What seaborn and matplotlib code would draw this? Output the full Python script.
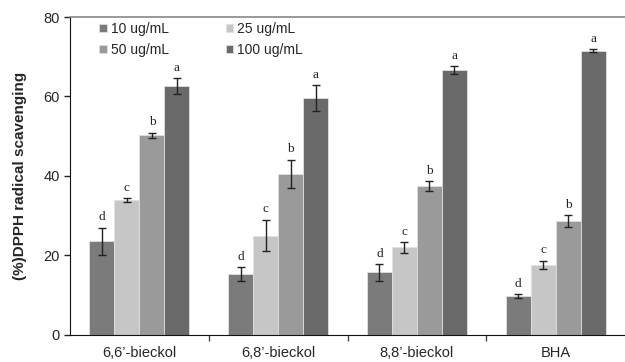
import matplotlib
matplotlib.use("Agg")
import matplotlib.pyplot as plt
import seaborn as sns
import pandas as pd
import numpy as np

compounds = ["6,6\u2019-bieckol", "6,8\u2019-bieckol", "8,8\u2019-bieckol", "BHA"]
concs = ["10 ug/mL", "25 ug/mL", "50 ug/mL", "100 ug/mL"]
vals_10 = [23.5, 15.3, 15.7, 9.7]
vals_25 = [33.9, 25.0, 22.0, 17.7]
vals_50 = [50.2, 40.5, 37.5, 28.7]
vals_100 = [62.6, 59.6, 66.6, 71.5]
err_10 = [3.5, 1.8, 2.2, 0.5]
err_25 = [0.5, 4.0, 1.3, 1.0]
err_50 = [0.7, 3.6, 1.2, 1.5]
err_100 = [2.0, 3.2, 1.0, 0.4]
letters = ["d", "c", "b", "a"]
colors = ["#7b7b7b", "#c6c6c6", "#9a9a9a", "#6a6a6a"]

sns.set_style("white")
plt.rcParams['font.family'] = ['Liberation Sans', 'DejaVu Sans']

rows = []
for conc, vals, errs in zip(concs, [vals_10, vals_25, vals_50, vals_100],
                            [err_10, err_25, err_50, err_100]):
    for c, v, e in zip(compounds, vals, errs):
        rows.append({"compound": c, "conc": conc, "value": v, "err": e})
df = pd.DataFrame(rows)

fig = plt.figure(figsize=(6.25, 3.62), dpi=100)
ax = fig.add_axes([0.112, 0.075, 0.888, 0.878])
sns.barplot(data=df, x="compound", y="value", hue="conc", order=compounds,
            hue_order=concs, palette=colors, errorbar=None, width=0.72,
            edgecolor="#e0e0e0", linewidth=0.6, ax=ax)

for ci, conc in enumerate(concs):
    cont = ax.containers[ci]
    sub = df[df.conc == conc].set_index("compound").loc[compounds]
    xs = [p.get_x() + p.get_width() / 2 for p in cont.patches]
    ax.errorbar(xs, sub["value"], yerr=sub["err"], fmt="none", ecolor="#222222",
                elinewidth=1.0, capsize=3, capthick=1.0)
    for x, v, e in zip(xs, sub["value"], sub["err"]):
        ax.annotate(letters[ci], (x, v + e), xytext=(0, 3), textcoords="offset points",
                    ha="center", va="bottom", fontsize=9.5,
                    family=["Liberation Serif", "DejaVu Serif"], color="#222222")

ax.set_xlim(-0.5, 3.5)
ax.set_ylim(0, 80)
ax.set_yticks([0, 20, 40, 60, 80])
ax.set_xlabel("")
ax.set_ylabel("(%)DPPH radical scavenging", fontsize=11, fontweight="bold", labelpad=12)
ax.tick_params(axis="y", direction="out", length=4, width=1, labelsize=10.5, left=True, color="#222222")
ax.tick_params(axis="x", which="major", length=0, labelsize=10.5, pad=8)
ax.set_xticks([0.5, 1.5, 2.5], minor=True)
ax.tick_params(axis="x", which="minor", direction="out", length=4, width=1, bottom=True, color="#444444")

ax.spines["right"].set_visible(False)
ax.spines["top"].set_color("#888888")
ax.spines["top"].set_linewidth(1.2)
ax.spines["left"].set_color("#111111")
ax.spines["bottom"].set_color("#111111")

handles, labels = ax.get_legend_handles_labels()
order = [0, 2, 1, 3]
ax.legend([handles[i] for i in order], [labels[i] for i in order],
          loc="upper left", ncol=2, frameon=False, fontsize=10,
          handlelength=0.55, handleheight=0.55, handletextpad=0.25,
          columnspacing=4.1, labelspacing=0.5, borderpad=0, borderaxespad=0,
          bbox_to_anchor=(0.053, 0.985))

fig.savefig("out.png", dpi=100)
